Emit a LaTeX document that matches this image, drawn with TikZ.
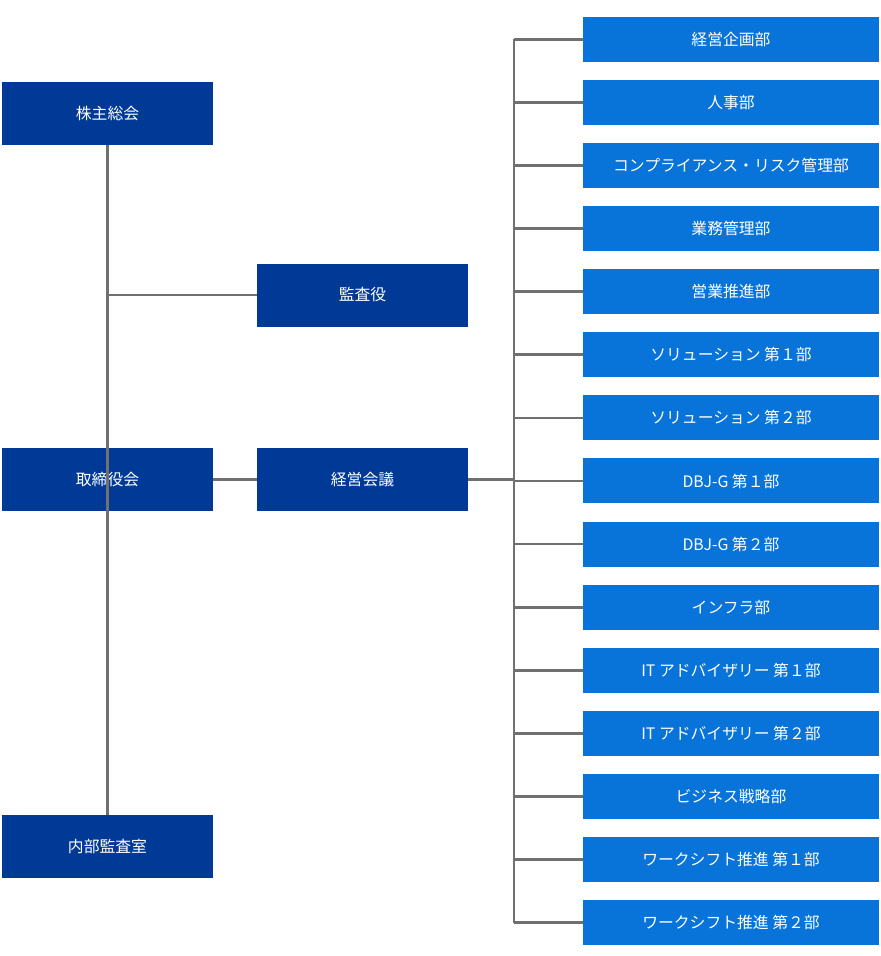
\documentclass[tikz,border=0pt]{standalone}
\usepackage{fontspec}
\setmainfont{Noto Sans CJK JP}
\begin{document}
\begin{tikzpicture}[x=0.02cm,y=-0.02cm,
  darkbox/.style={fill={rgb,255:red,0;green,58;blue,150}, text=white, minimum width=211*0.02cm, minimum height=63*0.02cm, inner sep=0pt, font=\fontsize{9}{10}\selectfont},
  lightbox/.style={fill={rgb,255:red,8;green,115;blue,217}, text=white, minimum width=296*0.02cm, minimum height=45*0.02cm, inner sep=0pt, font=\fontsize{9}{10}\selectfont},
  conn/.style={draw={rgb,255:red,112;green,112;blue,112}, line width=1.6pt}]
\useasboundingbox (0,0) rectangle (881,956);
\node[darkbox] (soukai) at (107.5,113.5){株主総会};
\node[darkbox] (kansa) at (362.5,295){監査役};
\node[darkbox] (torishimari) at (107.5,479.5){取締役会};
\node[darkbox] (keiei) at (362.5,479.5){経営会議};
\node[darkbox] (naibu) at (107.5,846.5){内部監査室};
\coordinate (branch) at (107.5,295);
\coordinate (bustop) at (514,39.5);
\coordinate (busbot) at (514,922.5);
\coordinate (busmid) at (514,479.5);
\draw[conn](soukai) -- (naibu);
\draw[conn](branch) -- (kansa);
\draw[conn](torishimari) -- (keiei);
\draw[conn](keiei) -- (busmid);
\draw[conn](bustop) -- (busbot);
\foreach \name [count=\i from 0] in {経営企画部,人事部,コンプライアンス・リスク管理部,業務管理部,営業推進部,ソリューション 第１部,ソリューション 第２部,DBJ-G 第１部,DBJ-G 第２部,インフラ部,IT アドバイザリー 第１部,IT アドバイザリー 第２部,ビジネス戦略部,ワークシフト推進 第１部,ワークシフト推進 第２部}{
  \node[lightbox] (dept\i) at (731,39.5+63.07*\i){\name};
  \coordinate (stub\i) at (514,39.5+63.07*\i);
  \draw[conn](stub\i) -- (dept\i);
}
\end{tikzpicture}
\end{document}
